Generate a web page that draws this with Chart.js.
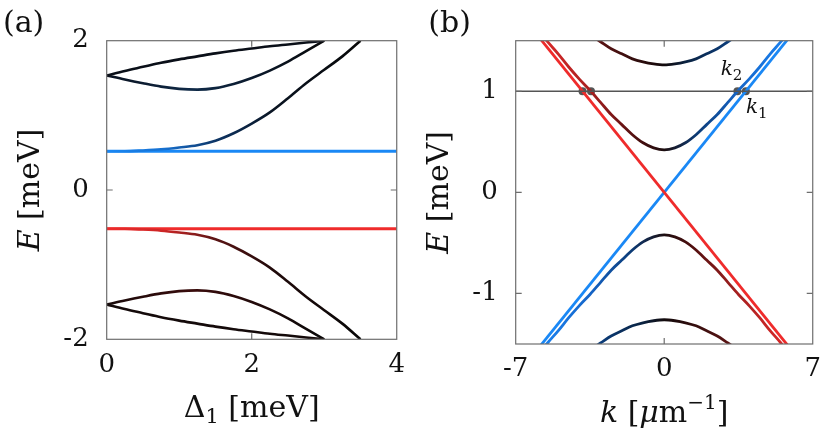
<!DOCTYPE html>
<html>
<head>
<meta charset="utf-8">
<script src="https://cdn.jsdelivr.net/npm/chart.js@4"></script>
<style>
  html, body { margin: 0; padding: 0; background: #fff; }
  #wrap { position: relative; width: 831px; height: 437px; }
  canvas { position: absolute; top: 0; }
  #chartA { left: 0; }
  #chartB { left: 415px; }
</style>
</head>
<body>
<div id="wrap">
  <canvas id="chartA" width="415" height="437"></canvas>
  <canvas id="chartB" width="416" height="437"></canvas>
</div>
<script>
// ---- panel (a): energies vs Delta_1 ----
const deltaGrid = [0, 0.25, 0.5, 0.75, 1, 1.25, 1.5, 1.75, 2, 2.25, 2.5, 2.75, 3, 3.25, 3.5];
const loopUpperTop = [1.535, 1.595, 1.65, 1.705, 1.75, 1.79, 1.83, 1.865, 1.895, 1.925, 1.95, 1.975, 2.0];
const loopUpperBottom = [1.535, 1.48, 1.43, 1.385, 1.355, 1.345, 1.365, 1.42, 1.5, 1.6, 1.72, 1.86, 2.0];
const riseUpper = [0.52, 0.52, 0.53, 0.545, 0.57, 0.6, 0.66, 0.76, 0.89, 1.04, 1.23, 1.43, 1.61, 1.79, 2.0];
const loopLowerBottom = [-1.535, -1.595, -1.65, -1.705, -1.75, -1.79, -1.83, -1.865, -1.895, -1.925, -1.95, -1.975, -2.0];
const loopLowerTop = [-1.535, -1.48, -1.43, -1.385, -1.355, -1.345, -1.365, -1.42, -1.5, -1.6, -1.72, -1.86, -2.0];
const fallLower = [-0.52, -0.52, -0.53, -0.545, -0.57, -0.6, -0.66, -0.76, -0.89, -1.04, -1.23, -1.43, -1.61, -1.79, -2.0];
const flatDelta = [0, 4];
const flatBlue = [0.52, 0.52];
const flatRed = [-0.52, -0.52];
const aTicksX = [0, 2, 4];
const aTicksY = [-2, 0, 2];

// ---- panel (b): dispersion E(k) ----
const kInner = [-6, -5.5, -5, -4.5, -4, -3.5, -3, -2.5, -2, -1.5, -1, -0.5, 0, 0.5, 1, 1.5, 2, 2.5, 3, 3.5, 4, 4.5, 5, 5.5, 6];
const innerUpper = [1.62, 1.49, 1.37, 1.24, 1.12, 1.01, 0.89, 0.77, 0.67, 0.57, 0.49, 0.44, 0.42, 0.44, 0.49, 0.57, 0.67, 0.77, 0.89, 1.01, 1.12, 1.24, 1.37, 1.49, 1.62];
const innerLower = [-1.62, -1.49, -1.37, -1.24, -1.12, -1.01, -0.89, -0.77, -0.67, -0.57, -0.49, -0.44, -0.42, -0.44, -0.49, -0.57, -0.67, -0.77, -0.89, -1.01, -1.12, -1.24, -1.37, -1.49, -1.62];
const kOuter = [-3.5, -3, -2.5, -2, -1.5, -1, -0.5, 0, 0.5, 1, 1.5, 2, 2.5, 3, 3.5];
const outerUpper = [1.56, 1.49, 1.42, 1.37, 1.32, 1.29, 1.27, 1.26, 1.27, 1.29, 1.32, 1.37, 1.42, 1.49, 1.56];
const outerLower = [-1.56, -1.49, -1.42, -1.37, -1.32, -1.29, -1.27, -1.26, -1.27, -1.29, -1.32, -1.37, -1.42, -1.49, -1.56];
const diracK = [-7, 7];
const diracBlue = [-1.82, 1.82];
const diracRed = [1.82, -1.82];
const fermiK = [-7, 7];
const fermiE = [1, 1];
const crossK = [-3.85, -3.45, 3.45, 3.85];
const crossE = [1, 1, 1, 1];
const bTicksX = [-7, 0, 7];
const bTicksY = [-1, 0, 1];

const SERIF = "'DejaVu Serif', 'Liberation Serif', serif";
const BLUE = '#1a88f5';
const RED = '#ef2b2b';

function pts(xs, ys) {
  return xs.map((x, i) => ({ x, y: ys[i] }));
}

// horizontal colour gradient following the x scale
function gradient(stops) {
  return (ctx) => {
    const chart = ctx.chart;
    const xs = chart.scales.x;
    if (!chart.chartArea || !xs) return stops[0][1];
    const x0 = xs.getPixelForValue(xs.min);
    const x1 = xs.getPixelForValue(xs.max);
    const g = chart.ctx.createLinearGradient(x0, 0, x1, 0);
    stops.forEach(([v, c]) => {
      const t = (v - xs.min) / (xs.max - xs.min);
      g.addColorStop(Math.min(1, Math.max(0, t)), c);
    });
    return g;
  };
}

function curve(data, color, width = 2.6) {
  return {
    data,
    borderColor: color,
    borderWidth: width,
    pointRadius: 0,
    cubicInterpolationMode: 'monotone',
    fill: false,
    clip: 0
  };
}

function drawRich(ctx, parts, x, y, align = 'center', size = 30) {
  const font = (p) => `${p.i ? 'italic ' : ''}${p.size || size}px ${SERIF}`;
  let total = 0;
  parts.forEach(p => { ctx.font = font(p); total += ctx.measureText(p.t).width; });
  let cx = align === 'center' ? x - total / 2 : x;
  ctx.textAlign = 'left';
  ctx.textBaseline = 'alphabetic';
  ctx.fillStyle = '#111';
  parts.forEach(p => {
    ctx.font = font(p);
    ctx.fillText(p.t, cx, y + (p.dy || 0));
    cx += ctx.measureText(p.t).width;
  });
}

const framePlugin = {
  id: 'frame',
  afterDatasetsDraw(chart, args, opts) {
    const { ctx, chartArea: a, scales } = chart;
    ctx.save();
    ctx.strokeStyle = '#6e6e6e';
    ctx.lineWidth = 1.2;
    ctx.strokeRect(a.left, a.top, a.right - a.left, a.bottom - a.top);
    ctx.beginPath();
    opts.xTicks.forEach(v => {
      if (v <= scales.x.min || v >= scales.x.max) return;
      const px = scales.x.getPixelForValue(v);
      ctx.moveTo(px, a.bottom); ctx.lineTo(px, a.bottom - 6);
      ctx.moveTo(px, a.top); ctx.lineTo(px, a.top + 6);
    });
    opts.yTicks.forEach(v => {
      if (v <= scales.y.min || v >= scales.y.max) return;
      const py = scales.y.getPixelForValue(v);
      ctx.moveTo(a.left, py); ctx.lineTo(a.left + 6, py);
      ctx.moveTo(a.right, py); ctx.lineTo(a.right - 6, py);
    });
    ctx.stroke();
    ctx.restore();
  },
  afterDraw(chart, args, opts) {
    const { ctx, chartArea: a, scales } = chart;
    ctx.save();
    drawRich(ctx, [{ t: opts.label }], opts.labelX, 31.5, 'left');
    drawRich(ctx, opts.xTitle, (a.left + a.right) / 2, a.bottom + 78);
    ctx.translate(a.left - 68, (a.top + a.bottom) / 2);
    ctx.rotate(-Math.PI / 2);
    drawRich(ctx, [{ t: 'E', i: true }, { t: ' [meV]' }], 0, 0);
    ctx.restore();
    (opts.notes || []).forEach(n => {
      drawRich(ctx, n.parts, scales.x.getPixelForValue(n.x), scales.y.getPixelForValue(n.y), 'left');
    });
  }
};

function axes(xMin, xMax, yMin, yMax, xTicks, yTicks, xHeight, yWidth, yPad) {
  const tickFont = { family: SERIF, size: 26 };
  return {
    x: {
      type: 'linear', min: xMin, max: xMax,
      afterBuildTicks: s => { s.ticks = xTicks.map(v => ({ value: v })); },
      afterFit: s => { s.height = xHeight; },
      grid: { display: false, drawTicks: false },
      border: { display: false },
      ticks: { font: tickFont, color: '#111', padding: 10, maxRotation: 0, autoSkip: false, callback: v => String(v) }
    },
    y: {
      type: 'linear', min: yMin, max: yMax,
      afterBuildTicks: s => { s.ticks = yTicks.map(v => ({ value: v })); },
      afterFit: s => { s.width = yWidth; },
      grid: { display: false, drawTicks: false },
      border: { display: false },
      ticks: { font: tickFont, color: '#111', padding: yPad, autoSkip: false, callback: v => String(v) }
    }
  };
}

function buildPanelA() {
  const ctx = document.getElementById('chartA').getContext('2d');
  const d13 = deltaGrid.slice(0, 13);
  const navyDark = [[0, '#0a0f18'], [4, '#0a0f18']];
  const navyDip = [[0, '#0a1220'], [1.2, '#0f2a48'], [2.2, '#0a1626'], [3, '#090909']];
  const blueFade = [[0, BLUE], [0.8, '#1670d0'], [1.5, '#0d3566'], [2.3, '#0a1422'], [3.5, '#080808']];
  const maroonDark = [[0, '#140a0a'], [4, '#140a0a']];
  const maroonDip = [[0, '#180a0a'], [1.2, '#3a0c0c'], [2.2, '#1e0a0a'], [3, '#090909']];
  const redFade = [[0, RED], [0.8, '#cc2626'], [1.5, '#5a1414'], [2.3, '#200a0a'], [3.5, '#080808']];

  new Chart(ctx, {
    type: 'line',
    data: {
      datasets: [
        curve(pts(d13, loopUpperTop), gradient(navyDark)),
        curve(pts(d13, loopUpperBottom), gradient(navyDip)),
        curve(pts(deltaGrid, riseUpper), gradient(blueFade)),
        curve(pts(d13, loopLowerBottom), gradient(maroonDark)),
        curve(pts(d13, loopLowerTop), gradient(maroonDip)),
        curve(pts(deltaGrid, fallLower), gradient(redFade)),
        curve(pts(flatDelta, flatBlue), BLUE, 3),
        curve(pts(flatDelta, flatRed), RED, 3)
      ]
    },
    options: {
      responsive: false,
      animation: false,
      events: [],
      layout: { padding: { left: 0, right: 9.3, top: 40.7, bottom: 0 } },
      plugins: {
        legend: { display: false },
        tooltip: { enabled: false },
        frame: {
          xTicks: aTicksX, yTicks: aTicksY, label: '(a)', labelX: 3,
          xTitle: [{ t: 'Δ' }, { t: '1', size: 21, dy: 6 }, { t: ' [meV]' }]
        }
      },
      scales: axes(0, 4, -2, 2, aTicksX, aTicksY, 97.7, 106.7, 18)
    },
    plugins: [framePlugin]
  });
}

function buildPanelB() {
  const ctx = document.getElementById('chartB').getContext('2d');
  const innerUp = [[-6, '#e02a2a'], [-3.5, '#a82020'], [-1.2, '#4a0e0e'], [0, '#1c0e10'], [1.5, '#0c3a74'], [3.5, '#1565c8'], [6, '#1a85f5']];
  const innerLow = [[-6, '#1a85f5'], [-3.5, '#1565c8'], [-1.5, '#0c3a74'], [0, '#1c0e10'], [1.2, '#4a0e0e'], [3.5, '#a82020'], [6, '#e02a2a']];
  const outerUp = [[-3.2, '#5e1414'], [-1, '#2a0c0c'], [0, '#120a0c'], [1, '#0a2240'], [3.2, '#0b3f80']];
  const outerLow = [[-3.2, '#0b3f80'], [-1, '#0a2240'], [0, '#120a0c'], [1, '#2a0c0c'], [3.2, '#5e1414']];

  new Chart(ctx, {
    type: 'line',
    data: {
      datasets: [
        curve(pts(fermiK, fermiE), '#555555', 1.5),
        curve(pts(diracK, diracRed), RED, 2.8),
        curve(pts(diracK, diracBlue), BLUE, 2.8),
        curve(pts(kInner, innerUpper), gradient(innerUp), 2.8),
        curve(pts(kInner, innerLower), gradient(innerLow), 2.8),
        curve(pts(kOuter, outerUpper), gradient(outerUp), 2.8),
        curve(pts(kOuter, outerLower), gradient(outerLow), 2.8),
        {
          data: pts(crossK, crossE),
          showLine: false,
          pointRadius: 4,
          pointBackgroundColor: '#555555',
          pointBorderWidth: 0,
          clip: 6
        }
      ]
    },
    options: {
      responsive: false,
      animation: false,
      events: [],
      layout: { padding: { left: 0, right: 11.7, top: 40.7, bottom: 0 } },
      plugins: {
        legend: { display: false },
        tooltip: { enabled: false },
        frame: {
          xTicks: bTicksX, yTicks: bTicksY, label: '(b)', labelX: 13.3,
          xTitle: [{ t: 'k', i: true }, { t: ' [' }, { t: 'μ', i: true }, { t: 'm' }, { t: '−1', size: 20, dy: -13 }, { t: ']' }],
          notes: [
            { x: 2.66, y: 1.158, parts: [{ t: 'k', i: true, size: 20 }, { t: '2', size: 15, dy: 5 }] },
            { x: 3.85, y: 0.78, parts: [{ t: 'k', i: true, size: 20 }, { t: '1', size: 15, dy: 5 }] }
          ]
        }
      },
      scales: axes(-7, 7, -1.5, 1.5, bTicksX, bTicksY, 93, 100.7, 18)
    },
    plugins: [framePlugin]
  });
}

buildPanelA();
buildPanelB();
</script>
</body>
</html>
